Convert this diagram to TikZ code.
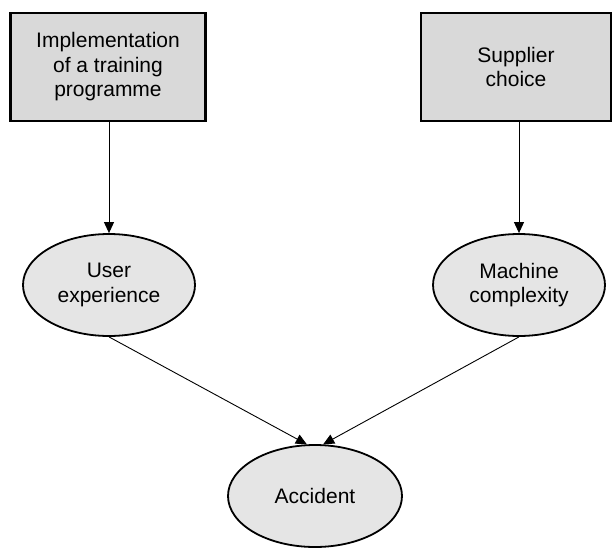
\documentclass[tikz,border=0pt]{standalone}
\usepackage{fontspec}
\setmainfont{Liberation Sans}
\usetikzlibrary{shapes.geometric,arrows.meta}

\begin{document}
\begin{tikzpicture}[x=1pt, y=-1pt,
    decision/.style={draw, line width=2.4pt, fill=black!15, minimum height=108pt,
        align=center, inner sep=0pt, font=\fontsize{21}{24.5}\selectfont},
    chance/.style={draw, ellipse, line width=1.8pt, fill=black!10, minimum width=172pt,
        minimum height=102pt, align=center, inner sep=0pt, font=\fontsize{21}{24.5}\selectfont},
    link/.style={line width=0.9pt, -{Triangle[length=11pt, width=10pt]}}]

    \useasboundingbox (0,0) rectangle (613,549);

    % decisions
    \node[decision, minimum width=195pt] (tp) at (108,67) {Implementation\\of a training\\programme};
    \node[decision, minimum width=190pt] (sc) at (516,67) {Supplier\\choice};

    % chance nodes
    \node[chance] (ue) at (109,285) {User\\experience};
    \node[chance] (mc) at (519,285) {Machine\\complexity};
    \node[chance, minimum width=174pt] (acc) at (315,496) {Accident};

    % arcs
    \draw[link] (tp.south -| ue.north) -- (ue.north);
    \draw[link] (sc.south -| mc.north) -- (mc.north);
    \draw[link] (ue.south) -- (acc.99);
    \draw[link] (mc.south) -- (acc.81);
\end{tikzpicture}
\end{document}
